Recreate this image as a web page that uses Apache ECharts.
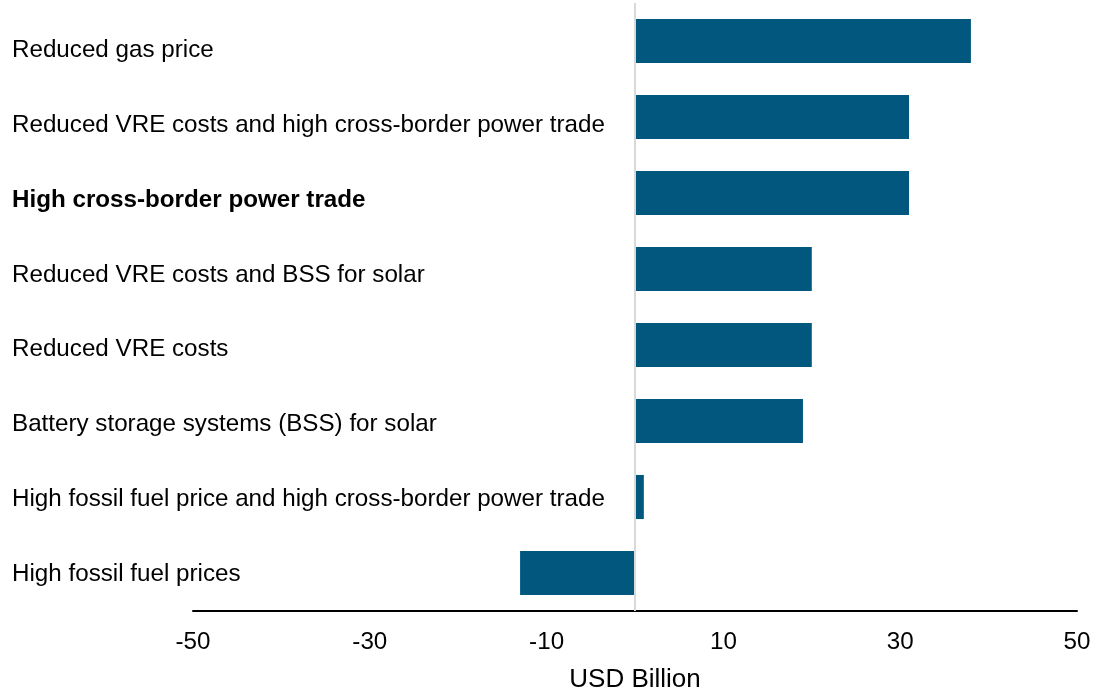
<!DOCTYPE html>
<html>
<head>
<meta charset="utf-8">
<style>
html,body{margin:0;padding:0;background:#fff;}
#chart{width:1093px;height:687px;}
</style>
<script src="https://cdn.jsdelivr.net/npm/echarts@6/dist/echarts.min.js"></script>
</head>
<body>
<div id="chart"></div>
<script>
const categories = [
  "Reduced gas price",
  "Reduced VRE costs and high cross-border power trade",
  "High cross-border power trade",
  "Reduced VRE costs and BSS for solar",
  "Reduced VRE costs",
  "Battery storage systems (BSS) for solar",
  "High fossil fuel price and high cross-border power trade",
  "High fossil fuel prices"
];
const values = [38, 31, 31, 20, 20, 19, 1, -13];
const boldCategory = "High cross-border power trade";
const xTicks = [-50, -30, -10, 10, 30, 50];
const axisName = "USD Billion";

const FONT = "'Liberation Sans', Arial, sans-serif";
const FS = 24.2;
const chart = echarts.init(document.getElementById('chart'), null, {renderer: 'canvas'});
chart.setOption({
  animation: false,
  backgroundColor: '#fff',
  grid: [
    {left: 193, right: 16, top: 3, bottom: 76, containLabel: false, outerBoundsMode: 'none'},
    {left: 193, right: 16, top: 12.5, bottom: 74.8, containLabel: false, outerBoundsMode: 'none'}
  ],
  xAxis: [{
    type: 'value',
    gridIndex: 0,
    min: -50, max: 50,
    axisLine: {show: true, onZero: false, lineStyle: {color: '#000', width: 2}},
    axisTick: {show: false},
    splitLine: {show: false},
    axisLabel: {
      customValues: xTicks,
      color: '#000', fontSize: FS, fontFamily: FONT, margin: 19
    },
    name: axisName,
    nameLocation: 'middle',
    nameGap: 56,
    nameTextStyle: {color: '#000', fontSize: 26, fontFamily: FONT}
  }, {
    type: 'value',
    gridIndex: 1,
    min: -50, max: 50,
    show: false
  }],
  yAxis: [{
    type: 'category',
    gridIndex: 0,
    data: categories,
    inverse: true,
    axisLine: {show: false, onZero: false},
    axisTick: {show: false},
    splitLine: {show: false},
    axisLabel: {show: false}
  }, {
    type: 'category',
    gridIndex: 1,
    data: categories,
    inverse: true,
    axisLine: {show: false, onZero: false},
    axisTick: {show: false},
    splitLine: {show: false},
    axisLabel: {
      align: 'left',
      margin: 181,
      color: '#000',
      fontSize: FS,
      fontFamily: FONT,
      formatter: function (v) { return v === boldCategory ? '{b|' + v + '}' : v; },
      rich: {b: {fontWeight: 'bold', fontSize: FS, fontFamily: FONT, color: '#000'}}
    }
  }],
  series: [{
    type: 'bar',
    xAxisIndex: 0,
    yAxisIndex: 0,
    data: values,
    barWidth: '58%',
    itemStyle: {color: '#02577F'},
    markLine: {
      silent: true,
      symbol: 'none',
      label: {show: false},
      lineStyle: {color: '#d9d9d9', width: 2, type: 'solid'},
      data: [{xAxis: 0}]
    },
    z: 3
  }]
});
</script>
</body>
</html>
